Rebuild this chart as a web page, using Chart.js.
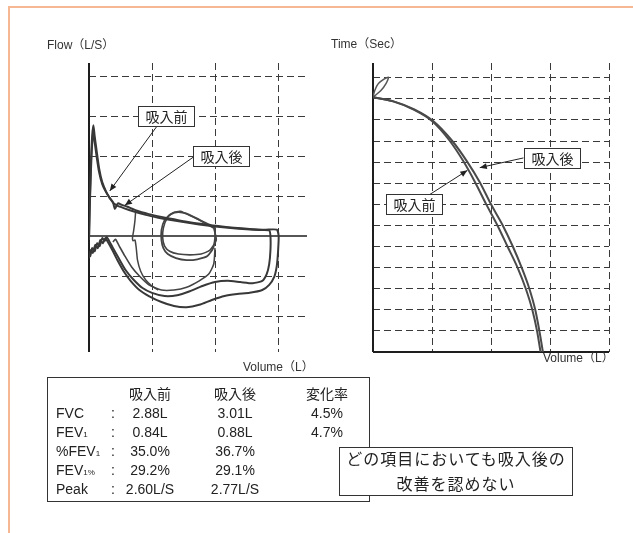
<!DOCTYPE html>
<html>
<head>
<meta charset="utf-8">
<script src="https://cdn.jsdelivr.net/npm/chart.js@4.4.1/dist/chart.umd.min.js"></script>
<style>
  html, body { margin: 0; padding: 0; background: #fff; }
  #page {
    position: relative; width: 633px; height: 533px; overflow: hidden; background: #fff;
    font-family: "Liberation Sans", Arial, "Noto Sans CJK JP", sans-serif; color: #222;
  }
  #frame {
    position: absolute; left: 8px; top: 6px; width: 700px; height: 600px;
    border-top: 2px solid #f6b892; border-left: 2px solid #f6b892;
  }
  canvas { position: absolute; left: 0; top: 0; }
  .axt { position: absolute; font-size: 12px; line-height: 14px; white-space: nowrap; color: #333; }
  #tbl {
    position: absolute; left: 47px; top: 377px; width: 323px; height: 125px;
    border: 1px solid #333; box-sizing: border-box; font-size: 14px; background: #fff;
  }
  .cell { position: absolute; line-height: 18px; white-space: nowrap; }
  .ctr { width: 100px; text-align: center; }
  .sub { font-size: 8px; }
  #note {
    position: absolute; left: 339px; top: 447px; width: 234px; height: 49px;
    border: 1px solid #333; box-sizing: border-box; background: #fff;
    font-family: "Noto Sans CJK JP", sans-serif; font-size: 16px; letter-spacing: 1px;
    text-align: center;
  }
  #note div { position: relative; top: -2px; line-height: 25px; }
</style>
</head>
<body>
<div id="page">
  <div id="frame"></div>
  <canvas id="flowChart" width="633" height="533"></canvas>
  <canvas id="timeChart" width="633" height="533"></canvas>

  <div class="axt" style="left:47px; top:38px;">Flow（L/S）</div>
  <div class="axt" style="left:331px; top:37px;">Time（Sec）</div>
  <div class="axt" style="left:243px; top:360px;">Volume（L）</div>
  <div class="axt" style="left:543px; top:351px;">Volume（L）</div>

  <div id="tbl"></div>
  <div id="note"><div>どの項目においても吸入後の<br>改善を認めない</div></div>
</div>

<script>
// ---- flow–volume loops: [volume (L), flow (L/s)] ----
const preLoop = [
  [0.0,-0.1],[0.01,0.6],[0.03,1.6],[0.05,2.3],[0.07,2.6],[0.09,2.35],[0.12,2.0],[0.16,1.6],
  [0.21,1.3],[0.27,1.1],[0.33,0.95],[0.39,0.82],[0.45,0.76],[0.55,0.7],[0.7,0.62],[0.9,0.53],
  [1.1,0.46],[1.3,0.4],[1.5,0.35],[1.75,0.29],[2.0,0.24],[2.25,0.2],[2.5,0.17],[2.7,0.15],
  [2.86,0.14],[2.88,0.0],
  [2.88,-0.35],[2.86,-0.7],[2.82,-0.95],[2.75,-1.12],[2.6,-1.18],[2.4,-1.15],[2.2,-1.12],
  [2.0,-1.15],[1.8,-1.25],[1.6,-1.38],[1.4,-1.48],[1.2,-1.5],[1.0,-1.42],[0.85,-1.3],
  [0.7,-1.08],[0.58,-0.85],[0.47,-0.55],[0.38,-0.3],[0.32,-0.12],[0.28,-0.02],[0.25,-0.12],
  [0.21,-0.05],[0.17,-0.25],[0.13,-0.18],[0.09,-0.38],[0.05,-0.3],[0.02,-0.5],[0.0,-0.45]
];
const postLoop = [
  [0.0,-0.1],[0.01,0.7],[0.03,1.8],[0.05,2.5],[0.07,2.77],[0.09,2.5],[0.12,2.15],[0.16,1.7],
  [0.21,1.35],[0.27,1.12],[0.33,0.95],[0.38,0.85],[0.41,0.68],[0.46,0.82],[0.52,0.78],
  [0.6,0.74],[0.75,0.64],[0.95,0.55],[1.15,0.48],[1.35,0.42],[1.55,0.36],[1.8,0.3],
  [2.05,0.25],[2.3,0.21],[2.55,0.18],[2.8,0.16],[2.98,0.16],[3.01,0.0],
  [3.0,-0.4],[2.98,-0.75],[2.94,-1.02],[2.86,-1.22],[2.75,-1.35],[2.55,-1.42],[2.35,-1.45],
  [2.15,-1.5],[1.95,-1.6],[1.75,-1.72],[1.55,-1.78],[1.35,-1.75],[1.15,-1.65],[0.95,-1.5],
  [0.8,-1.35],[0.66,-1.12],[0.55,-0.88],[0.45,-0.6],[0.37,-0.35],[0.3,-0.15],[0.26,-0.05],
  [0.22,-0.18],[0.18,-0.1],[0.14,-0.3],[0.1,-0.22],[0.06,-0.42],[0.03,-0.35],[0.0,-0.55]
];
// quiet breathing loops around mid volume
const tidalA = [
  [2.0,0.22],[1.85,0.33],[1.7,0.45],[1.55,0.56],[1.42,0.6],[1.3,0.55],[1.2,0.4],[1.15,0.15],
  [1.15,-0.1],[1.18,-0.3],[1.25,-0.45],[1.38,-0.55],[1.55,-0.6],[1.72,-0.58],[1.88,-0.5],
  [1.97,-0.3],[2.0,-0.05],[2.0,0.22]
];
const tidalB = [
  [1.98,0.2],[1.8,0.36],[1.62,0.5],[1.45,0.62],[1.33,0.58],[1.24,0.45],[1.18,0.2],[1.17,-0.05],
  [1.2,-0.25],[1.28,-0.38],[1.42,-0.45],[1.6,-0.47],[1.78,-0.45],[1.92,-0.35],[2.02,-0.1],[1.98,0.2]
];
const tidalInsp = [
  [2.0,-0.3],[1.98,-0.7],[1.9,-0.95],[1.75,-1.12],[1.55,-1.28],[1.35,-1.35],[1.15,-1.35],
  [0.95,-1.22],[0.8,-1.0],[0.68,-0.78],[0.57,-0.5],[0.48,-0.25],[0.42,-0.08],[0.38,-0.15]
];
const recoveryTrace = [
  [0.74,0.62],[0.73,0.4],[0.71,0.15],[0.69,-0.05],[0.7,-0.12],[0.73,-0.1],[0.75,-0.3],
  [0.77,-0.6],[0.82,-0.88],[0.9,-1.1],[1.0,-1.25],[1.1,-1.35]
];

// ---- volume–time traces: [volume (L), time (s)] ----
const preVT = [
  [0,12.08],[0.34,11.88],[0.68,11.5],[1.0,10.95],[1.29,10.05],[1.53,9.05],[1.73,8.05],[1.92,7.0],
  [2.11,6.0],[2.28,5.0],[2.45,4.0],[2.59,3.0],[2.7,2.0],[2.78,1.0],[2.84,0]
];
const postVT = [
  [0,12.08],[0.35,11.88],[0.7,11.5],[1.02,10.95],[1.33,10.05],[1.59,9.05],[1.81,8.05],[2.0,7.0],
  [2.2,6.0],[2.37,5.0],[2.52,4.0],[2.65,3.0],[2.75,2.0],[2.82,1.0],[2.88,0]
];
const startLoop = [[0,12.08],[0.03,12.4],[0.1,12.75],[0.26,13.03],[0.22,12.72],[0.13,12.38],[0,12.08]];

// ---- grid tick values ----
const flowTicksX = [1, 2, 3];
const flowTicksY = [-2, -1, 1, 2, 3, 4];
const timeTicksX = [1, 2, 3, 4];
const timeTicksY = [1, 2, 3, 4, 5, 6, 7, 8, 9, 10, 11, 12, 13];

// ---- summary table ----
const headers = ['吸入前', '吸入後', '変化率'];
const labelMain = ['FVC', 'FEV', '%FEV', 'FEV', 'Peak'];
const labelSub = ['', '1', '1', '1%', ''];
const preValues = ['2.88L', '0.84L', '35.0%', '29.2%', '2.60L/S'];
const postValues = ['3.01L', '0.88L', '36.7%', '29.1%', '2.77L/S'];
const changeValues = ['4.5%', '4.7%', '', '', ''];

const pts = a => a.map(([x, y]) => ({x, y}));

// solid axis lines given in data coordinates
const axisLines = {
  id: 'axisLines',
  beforeDatasetsDraw(chart, args, opts) {
    const {ctx, scales: {x, y}} = chart;
    ctx.save();
    ctx.setLineDash([]);
    ctx.strokeStyle = '#1e1e1e';
    opts.lines.forEach(l => {
      ctx.lineWidth = l.w;
      ctx.beginPath();
      ctx.moveTo(x.getPixelForValue(l.from[0]), y.getPixelForValue(l.from[1]));
      ctx.lineTo(x.getPixelForValue(l.to[0]), y.getPixelForValue(l.to[1]));
      ctx.stroke();
    });
    ctx.restore();
  }
};

// boxed labels with arrows pointing at a trace
const callouts = {
  id: 'callouts',
  afterDatasetsDraw(chart, args, opts) {
    const {ctx, scales: {x, y}} = chart;
    ctx.save();
    ctx.font = '14px "Noto Sans CJK JP", sans-serif';
    opts.items.forEach(c => {
      const x1 = x.getPixelForValue(c.from[0]), y1 = y.getPixelForValue(c.from[1]);
      const x2 = x.getPixelForValue(c.to[0]), y2 = y.getPixelForValue(c.to[1]);
      ctx.strokeStyle = '#222'; ctx.lineWidth = 1; ctx.setLineDash([]);
      ctx.beginPath(); ctx.moveTo(x1, y1); ctx.lineTo(x2, y2); ctx.stroke();
      const a = Math.atan2(y2 - y1, x2 - x1), L = 7, W = 3;
      ctx.fillStyle = '#222';
      ctx.beginPath();
      ctx.moveTo(x2, y2);
      ctx.lineTo(x2 - L * Math.cos(a) + W * Math.sin(a), y2 - L * Math.sin(a) - W * Math.cos(a));
      ctx.lineTo(x2 - L * Math.cos(a) - W * Math.sin(a), y2 - L * Math.sin(a) + W * Math.cos(a));
      ctx.closePath(); ctx.fill();

      const bx = x.getPixelForValue(c.at[0]), by = y.getPixelForValue(c.at[1]);
      const w = Math.round(ctx.measureText(c.text).width + 14), h = 20;
      const left = Math.round(bx - w / 2), top = Math.round(by - h / 2);
      ctx.fillStyle = '#fff'; ctx.fillRect(left, top, w, h);
      ctx.strokeStyle = '#333'; ctx.strokeRect(left + 0.5, top + 0.5, w, h);
      ctx.fillStyle = '#222'; ctx.textAlign = 'center'; ctx.textBaseline = 'middle';
      ctx.fillText(c.text, left + w / 2 + 0.5, top + h / 2 + 1);
    });
    ctx.restore();
  }
};

function scaleOpts(min, max, tickValues) {
  return {
    type: 'linear', min, max,
    afterBuildTicks: s => { s.ticks = tickValues.map(v => ({value: v})); },
    ticks: {display: false},
    grid: {color: '#3a3a3a', lineWidth: 1, drawTicks: false},
    border: {display: false, dash: [7, 4]}
  };
}

function line(data, color, width) {
  return {data: pts(data), showLine: true, borderColor: color, borderWidth: width,
          pointRadius: 0, tension: 0.2, fill: false};
}

// left: flow–volume
new Chart(document.getElementById('flowChart'), {
  type: 'scatter',
  data: {
    datasets: [
      line(preLoop, '#383838', 2),
      line(postLoop, '#383838', 2),
      line(tidalA, '#444', 1.8),
      line(tidalB, '#444', 1.6),
      line(tidalInsp, '#444', 1.6),
      line(recoveryTrace, '#444', 1.5)
    ]
  },
  options: {
    responsive: false, animation: false, events: [],
    layout: {padding: {left: 89, top: 63, right: 326, bottom: 181}},
    plugins: {
      legend: {display: false}, tooltip: {enabled: false},
      axisLines: {lines: [
        {from: [0, -2.9], to: [0, 4.33], w: 2},
        {from: [0, 0], to: [3.46, 0], w: 1.5}
      ]},
      callouts: {items: [
        {text: '吸入前', at: [1.22, 3.0], from: [1.07, 2.73], to: [0.33, 1.13]},
        {text: '吸入後', at: [2.1, 2.0], from: [1.66, 1.98], to: [0.57, 0.77]}
      ]}
    },
    scales: {x: scaleOpts(0, 3.46, flowTicksX), y: scaleOpts(-2.9, 4.33, flowTicksY)}
  },
  plugins: [axisLines, callouts]
});

// right: volume–time
const vtLine = (data, color, width) =>
  Object.assign(line(data, color, width), {cubicInterpolationMode: 'monotone'});

new Chart(document.getElementById('timeChart'), {
  type: 'scatter',
  data: {
    datasets: [
      vtLine(preVT, '#4a4a4a', 2),
      vtLine(postVT, '#4a4a4a', 2),
      Object.assign(line(startLoop, '#555', 1.5), {tension: 0.3})
    ]
  },
  options: {
    responsive: false, animation: false, events: [],
    layout: {padding: {left: 373, top: 63, right: 24, bottom: 181}},
    plugins: {
      legend: {display: false}, tooltip: {enabled: false},
      axisLines: {lines: [
        {from: [0, 0], to: [0, 13.7], w: 2},
        {from: [0, 0], to: [4, 0], w: 2}
      ]},
      callouts: {items: [
        {text: '吸入後', at: [3.03, 9.2], from: [2.55, 9.2], to: [1.81, 8.74]},
        {text: '吸入前', at: [0.69, 7.0], from: [0.92, 7.39], to: [1.6, 8.61]}
      ]}
    },
    scales: {x: scaleOpts(0, 4, timeTicksX), y: scaleOpts(0, 13.7, timeTicksY)}
  },
  plugins: [axisLines, callouts]
});

// summary table
(function buildTable() {
  const tbl = document.getElementById('tbl');
  const rowY = i => 16 + i * 18.9 - 9;
  const centers = [102, 187, 279];
  const add = (html, left, top, centred) => {
    const d = document.createElement('div');
    d.className = 'cell' + (centred ? ' ctr' : '');
    d.style.left = (centred ? left - 50 : left) + 'px';
    d.style.top = top + 'px';
    d.innerHTML = html;
    tbl.appendChild(d);
  };
  headers.forEach((h, j) => add(h, centers[j], rowY(0), true));
  labelMain.forEach((m, i) => {
    const y = rowY(i + 1);
    add(m + (labelSub[i] ? '<span class="sub">' + labelSub[i] + '</span>' : ''), 8, y, false);
    add(':', 63, y, false);
    add(preValues[i], centers[0], y, true);
    add(postValues[i], centers[1], y, true);
    add(changeValues[i], centers[2], y, true);
  });
})();
</script>
</body>
</html>
